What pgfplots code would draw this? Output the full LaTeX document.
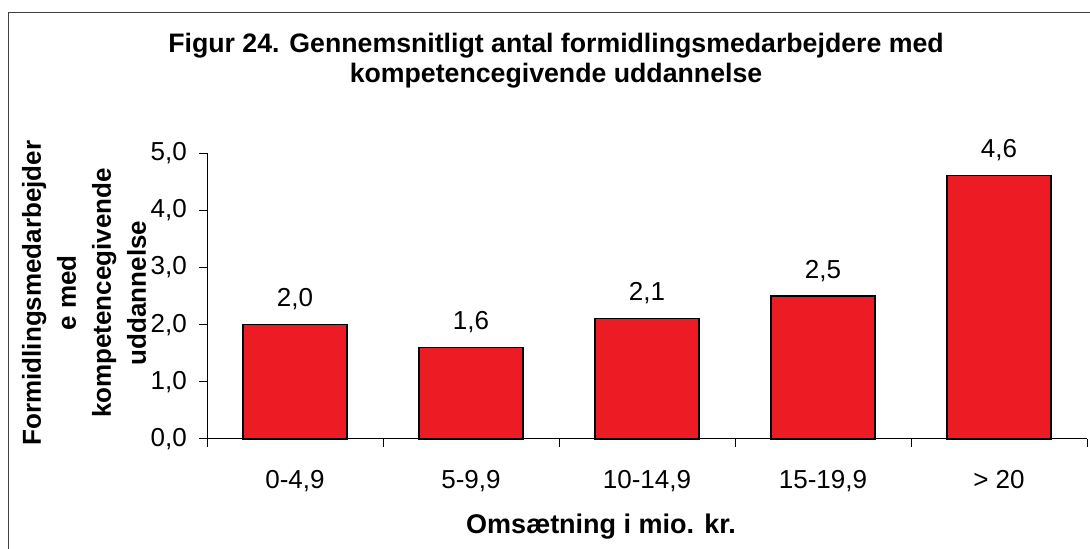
\documentclass[border=0pt]{standalone}
\usepackage{fontspec}
\setmainfont{Liberation Sans}
\usepackage{pgfplots}
\pgfplotsset{compat=1.18}
\definecolor{barred}{HTML}{ED1C24}
\definecolor{framegray}{HTML}{404040}
\pgfplotsset{/pgf/number format/assume math mode=true}

\begin{document}
\begin{tikzpicture}[x=1pt,y=1pt]
\path[use as bounding box] (0,0) rectangle (1090,549);
% outer frame (right and bottom edges fall outside the picture)
\draw[framegray, line width=1.2pt] (8.5,-20) -- (8.5,536.5) -- (1110,536.5);

\node[anchor=base, font=\fontsize{26.7}{30}\selectfont\bfseries] at (556,496)
  {Figur 24. Gennemsnitligt antal formidlingsmedarbejdere med};
\node[anchor=base, font=\fontsize{26.7}{30}\selectfont\bfseries] at (556,466)
  {kompetencegivende uddannelse};
\node[anchor=base, font=\fontsize{27}{30}\selectfont\bfseries] at (601,16)
  {Omsætning i mio. kr.};
\node[rotate=90, align=center, font=\fontsize{26}{35}\selectfont\bfseries] at (84,256)
  {Formidlingsmedarbejder\\e med\\kompetencegivende\\uddannelse};

\begin{axis}[
    at={(207pt,110pt)}, anchor=south west,
    scale only axis,
    width=880pt, height=286pt,
    xmin=-0.5, xmax=4.5,
    ymin=0, ymax=5,
    axis x line*=bottom, axis y line*=left,
    axis line style={black, line width=1pt},
    tick align=outside,
    major tick length=8pt,
    tick style={black, line width=1pt},
    ytick={0,1,2,3,4,5},
    yticklabel={\pgfmathprintnumber[fixed,fixed zerofill,precision=1,use comma]{\tick}},
    yticklabel style={anchor=east, inner sep=0pt, xshift=-12pt},
    xtick={-0.5,0.5,1.5,2.5,3.5,4.5},
    xticklabels={},
    extra x ticks={0,1,2,3,4},
    extra x tick labels={0-4{,}9, 5-9{,}9, 10-14{,}9, 15-19{,}9, > 20},
    extra x tick style={major tick length=0pt,
        xticklabel style={anchor=base, inner sep=0pt, yshift=-49pt}},
    ticklabel style={font=\fontsize{26}{30}\selectfont},
    clip=false,
    ybar,
    bar width=0.59,
    nodes near coords={\pgfmathprintnumber[fixed,fixed zerofill,precision=1,use comma]{\pgfplotspointmeta}},
    nodes near coords style={anchor=base, inner sep=0pt, yshift=18pt,
        font=\fontsize{26}{30}\selectfont, black},
]
\addplot[fill=barred, draw=black, line width=1.2pt] coordinates {
(0,2.0) (1,1.6) (2,2.1) (3,2.5) (4,4.6)
};
\end{axis}
\end{tikzpicture}
\end{document}
